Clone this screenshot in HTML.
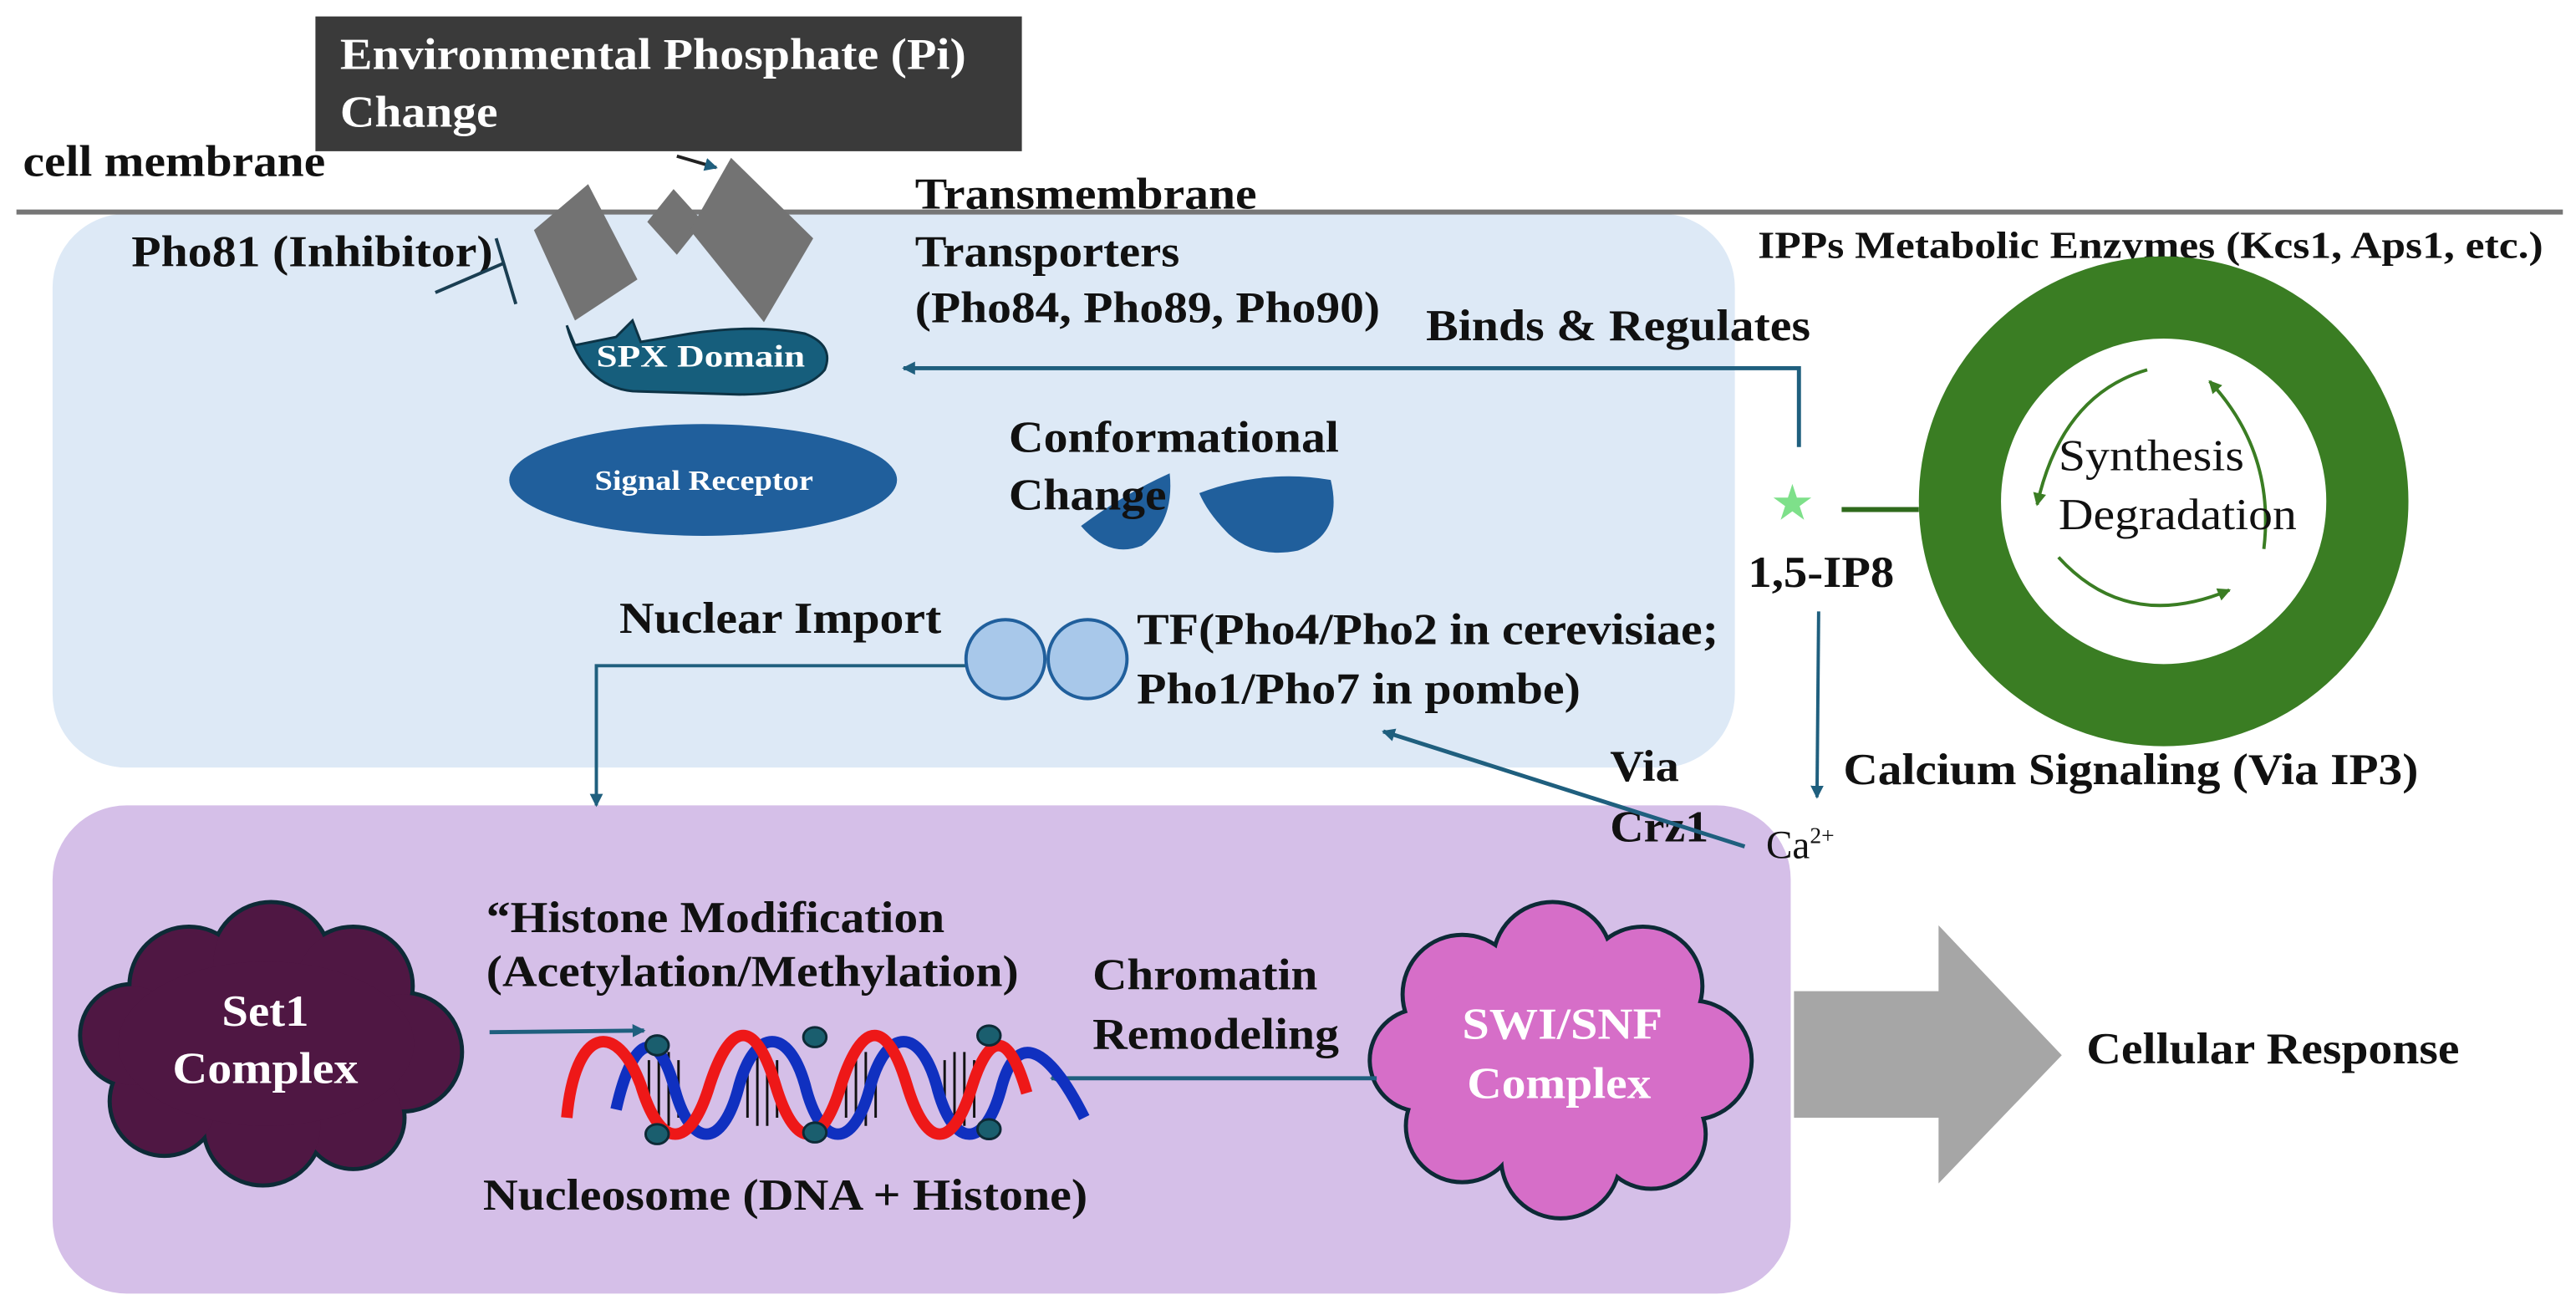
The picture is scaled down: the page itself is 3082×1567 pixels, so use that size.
<!DOCTYPE html>
<html><head><meta charset="utf-8"><style>
html,body{margin:0;padding:0;background:#fff;}
svg{display:block;}
text{font-family:"Liberation Serif",serif;}
.b{font-weight:bold;font-size:27px;fill:#111;}
</style></head><body>
<svg width="3082" height="1567" viewBox="0 0 1568 797" preserveAspectRatio="none" xmlns="http://www.w3.org/2000/svg">
<defs>
<marker id="ah" markerWidth="8" markerHeight="8" refX="7" refY="4" orient="auto" markerUnits="userSpaceOnUse"><path d="M0,0 L8,4 L0,8 Z" fill="#1f5f7e"/></marker>
<marker id="ag" markerWidth="8" markerHeight="8" refX="7" refY="4" orient="auto" markerUnits="userSpaceOnUse"><path d="M0,0 L8,4 L0,8 Z" fill="#3a7d23"/></marker>
</defs>
<rect x="32" y="130" width="1024" height="337" rx="45" fill="#dde9f6"/>
<rect x="32" y="490" width="1058" height="297" rx="45" fill="#d5bfe8"/>
<line x1="10" y1="129" x2="1560" y2="129" stroke="#767676" stroke-width="3"/>
<rect x="192" y="10" width="430" height="82" fill="#3a3a3a"/>
<text x="207" y="42" class="b" style="fill:#fff" textLength="381" lengthAdjust="spacingAndGlyphs">Environmental Phosphate (Pi)</text>
<text x="207" y="77" class="b" style="fill:#fff" textLength="96" lengthAdjust="spacingAndGlyphs">Change</text>
<text x="14" y="107" class="b" textLength="184" lengthAdjust="spacingAndGlyphs">cell membrane</text>
<line x1="412" y1="95" x2="436" y2="102" stroke="#222" stroke-width="2" marker-end="url(#ah)"/>
<polygon points="358,112 388,170 350,195 325,140" fill="#737373"/>
<polygon points="410,115 428,135 412,155 394,135" fill="#737373"/>
<polygon points="445,96 495,145 465,196 420,140" fill="#737373"/>
<text x="557" y="127" class="b" textLength="208" lengthAdjust="spacingAndGlyphs">Transmembrane</text>
<text x="557" y="162" class="b" textLength="161" lengthAdjust="spacingAndGlyphs">Transporters</text>
<text x="557" y="196" class="b" textLength="283" lengthAdjust="spacingAndGlyphs">(Pho84, Pho89, Pho90)</text>
<text x="80" y="162" class="b" textLength="220" lengthAdjust="spacingAndGlyphs">Pho81 (Inhibitor)</text>
<line x1="302" y1="145" x2="314" y2="185" stroke="#1a3e52" stroke-width="2"/>
<line x1="265" y1="178" x2="307" y2="160" stroke="#1a3e52" stroke-width="2"/>
<path d="M345,198 L350,210 L375,205 L385,195 L390,208 L420,203 Q460,197 490,203 Q508,210 502,225 Q490,240 450,240 L385,238 Q355,235 345,198 Z" fill="#165e7c" stroke="#0d3345" stroke-width="1.5"/>
<text x="363" y="223" style="font-weight:bold;font-size:19px;fill:#fff" textLength="127" lengthAdjust="spacingAndGlyphs">SPX Domain</text>
<ellipse cx="428" cy="292" rx="118" ry="34" fill="#205f9c"/>
<text x="362" y="298" style="font-weight:bold;font-size:17px;fill:#fff" textLength="133" lengthAdjust="spacingAndGlyphs">Signal Receptor</text>
<path d="M658,320 Q685,300 712,288 Q715,318 695,332 Q675,340 658,320 Z" fill="#205f9c"/>
<path d="M730,300 Q770,285 810,292 Q818,325 790,335 Q765,340 748,325 Q735,312 730,300 Z" fill="#205f9c"/>
<text x="614" y="275" class="b" textLength="201" lengthAdjust="spacingAndGlyphs">Conformational</text>
<text x="614" y="310" class="b" textLength="96" lengthAdjust="spacingAndGlyphs">Change</text>
<text x="868" y="207" class="b" textLength="234" lengthAdjust="spacingAndGlyphs">Binds &amp; Regulates</text>
<polyline points="1095,272 1095,224 550,224" fill="none" stroke="#1f5f7e" stroke-width="2.5" marker-end="url(#ah)"/>
<text x="1070" y="157" style="font-weight:bold;font-size:23px;fill:#111" textLength="478" lengthAdjust="spacingAndGlyphs">IPPs Metabolic Enzymes (Kcs1, Aps1, etc.)</text>
<ellipse cx="1317" cy="305" rx="124" ry="124" fill="none" stroke="#3a7d23" stroke-width="50"/>
<path d="M1307,225 Q1255,240 1240,307" fill="none" stroke="#3a7d23" stroke-width="2" marker-end="url(#ag)"/>
<path d="M1378,334 Q1385,275 1345,232" fill="none" stroke="#3a7d23" stroke-width="2" marker-end="url(#ag)"/>
<path d="M1253,339 Q1295,385 1357,359" fill="none" stroke="#3a7d23" stroke-width="2" marker-end="url(#ag)"/>
<text x="1253" y="286" style="font-size:27px;fill:#111" textLength="113" lengthAdjust="spacingAndGlyphs">Synthesis</text>
<text x="1253" y="322" style="font-size:27px;fill:#111" textLength="145" lengthAdjust="spacingAndGlyphs">Degradation</text>
<text x="1091" y="316" text-anchor="middle" style="font-size:30px;fill:#7ee08a">★</text>
<line x1="1121" y1="310" x2="1168" y2="310" stroke="#2f6a1c" stroke-width="3"/>
<text x="1064" y="357" class="b" textLength="89" lengthAdjust="spacingAndGlyphs">1,5-IP8</text>
<line x1="1107" y1="372" x2="1106" y2="485" stroke="#1f5f7e" stroke-width="2" marker-end="url(#ah)"/>
<text x="1122" y="477" class="b" textLength="350" lengthAdjust="spacingAndGlyphs">Calcium Signaling (Via IP3)</text>
<text x="1075" y="522" style="font-size:24px;fill:#111">Ca<tspan dy="-9" font-size="14">2+</tspan></text>
<text x="980" y="475" class="b" textLength="42" lengthAdjust="spacingAndGlyphs">Via</text>
<text x="980" y="512" class="b" textLength="60" lengthAdjust="spacingAndGlyphs">Crz1</text>
<line x1="1062" y1="515" x2="842" y2="445" stroke="#1f5f7e" stroke-width="2.5" marker-end="url(#ah)"/>
<text x="377" y="385" class="b" textLength="196" lengthAdjust="spacingAndGlyphs">Nuclear Import</text>
<polyline points="588,405 363,405 363,490" fill="none" stroke="#1f5f7e" stroke-width="2" marker-end="url(#ah)"/>
<ellipse cx="612" cy="401" rx="24" ry="24" fill="#a8c8ea" stroke="#205f9c" stroke-width="2"/>
<ellipse cx="662" cy="401" rx="24" ry="24" fill="#a8c8ea" stroke="#205f9c" stroke-width="2"/>
<text x="692" y="392" class="b" textLength="354" lengthAdjust="spacingAndGlyphs">TF(Pho4/Pho2 in cerevisiae;</text>
<text x="692" y="428" class="b" textLength="270" lengthAdjust="spacingAndGlyphs">Pho1/Pho7 in pombe)</text>
<g stroke="#0d2a36" stroke-width="5" fill="#4f1743">
<circle cx="115" cy="600" r="35"/><circle cx="165" cy="585" r="35"/><circle cx="215" cy="600" r="35"/><circle cx="245" cy="640" r="35"/><circle cx="215" cy="680" r="30"/><circle cx="160" cy="685" r="35"/><circle cx="100" cy="670" r="32"/><circle cx="80" cy="630" r="30"/>
</g>
<g fill="#4f1743"><circle cx="115" cy="600" r="35"/><circle cx="165" cy="585" r="35"/><circle cx="215" cy="600" r="35"/><circle cx="245" cy="640" r="35"/><circle cx="215" cy="680" r="30"/><circle cx="160" cy="685" r="35"/><circle cx="100" cy="670" r="32"/><circle cx="80" cy="630" r="30"/><ellipse cx="162" cy="635" rx="90" ry="50"/></g>
<text x="135" y="624" class="b" style="fill:#fff" textLength="53" lengthAdjust="spacingAndGlyphs">Set1</text>
<text x="105" y="659" class="b" style="fill:#fff" textLength="113" lengthAdjust="spacingAndGlyphs">Complex</text>
<g stroke="#0d2a36" stroke-width="5" fill="#d66ec8">
<circle cx="890" cy="605" r="35"/><circle cx="945" cy="585" r="35"/><circle cx="1000" cy="600" r="35"/><circle cx="1030" cy="645" r="35"/><circle cx="1005" cy="690" r="32"/><circle cx="950" cy="705" r="35"/><circle cx="890" cy="685" r="33"/><circle cx="865" cy="645" r="30"/>
</g>
<g fill="#d66ec8"><circle cx="890" cy="605" r="35"/><circle cx="945" cy="585" r="35"/><circle cx="1000" cy="600" r="35"/><circle cx="1030" cy="645" r="35"/><circle cx="1005" cy="690" r="32"/><circle cx="950" cy="705" r="35"/><circle cx="890" cy="685" r="33"/><circle cx="865" cy="645" r="30"/><ellipse cx="948" cy="645" rx="95" ry="60"/></g>
<text x="890" y="632" class="b" style="fill:#fff" textLength="122" lengthAdjust="spacingAndGlyphs">SWI/SNF</text>
<text x="893" y="668" class="b" style="fill:#fff" textLength="112" lengthAdjust="spacingAndGlyphs">Complex</text>
<text x="296" y="567" class="b" textLength="279" lengthAdjust="spacingAndGlyphs">“Histone Modification</text>
<text x="296" y="600" class="b" textLength="324" lengthAdjust="spacingAndGlyphs">(Acetylation/Methylation)</text>
<line x1="298" y1="628" x2="392" y2="627" stroke="#1f5f7e" stroke-width="2.5" marker-end="url(#ah)"/>
<text x="665" y="602" class="b" textLength="137" lengthAdjust="spacingAndGlyphs">Chromatin</text>
<text x="665" y="638" class="b" textLength="150" lengthAdjust="spacingAndGlyphs">Remodeling</text>
<line x1="838" y1="656" x2="640" y2="656" stroke="#1f5f7e" stroke-width="2.5" marker-end="url(#ah)"/>
<g stroke="#111" stroke-width="1.5">
<line x1="395" y1="645" x2="395" y2="680"/><line x1="401" y1="640" x2="401" y2="685"/><line x1="407" y1="640" x2="407" y2="685"/><line x1="413" y1="645" x2="413" y2="680"/>
<line x1="455" y1="645" x2="455" y2="680"/><line x1="461" y1="640" x2="461" y2="685"/><line x1="467" y1="640" x2="467" y2="685"/><line x1="473" y1="645" x2="473" y2="680"/>
<line x1="515" y1="645" x2="515" y2="680"/><line x1="521" y1="640" x2="521" y2="685"/><line x1="527" y1="640" x2="527" y2="685"/><line x1="533" y1="645" x2="533" y2="680"/>
<line x1="575" y1="645" x2="575" y2="680"/><line x1="581" y1="640" x2="581" y2="685"/><line x1="587" y1="640" x2="587" y2="685"/><line x1="593" y1="645" x2="593" y2="680"/>
</g>
<path d="M375,675 C385,630 400,625 410,660 C420,700 440,700 450,660 C460,625 480,625 490,660 C500,700 520,700 530,660 C540,625 560,625 570,660 C580,700 600,700 610,660 C620,625 640,640 660,680" fill="none" stroke="#1030c0" stroke-width="7"/>
<path d="M345,680 C350,625 375,620 390,660 C402,700 420,700 432,660 C445,620 460,620 472,660 C484,700 500,700 512,660 C525,620 540,620 552,660 C564,700 580,700 592,660 C600,635 612,620 625,665" fill="none" stroke="#ee1818" stroke-width="7"/>
<g fill="#1a5e6e" stroke="#0d2a36" stroke-width="1.5">
<ellipse cx="400" cy="636" rx="7" ry="6"/><ellipse cx="496" cy="631" rx="7" ry="6"/><ellipse cx="602" cy="630" rx="7" ry="6"/>
<ellipse cx="400" cy="690" rx="7" ry="6"/><ellipse cx="496" cy="689" rx="7" ry="6"/><ellipse cx="602" cy="687" rx="7" ry="6"/>
</g>
<text x="294" y="736" class="b" textLength="368" lengthAdjust="spacingAndGlyphs">Nucleosome (DNA + Histone)</text>
<polygon points="1092,603 1180,603 1180,563 1255,642 1180,720 1180,680 1092,680" fill="#a6a6a6"/>
<text x="1270" y="647" class="b" textLength="227" lengthAdjust="spacingAndGlyphs">Cellular Response</text>
</svg>
</body></html>
